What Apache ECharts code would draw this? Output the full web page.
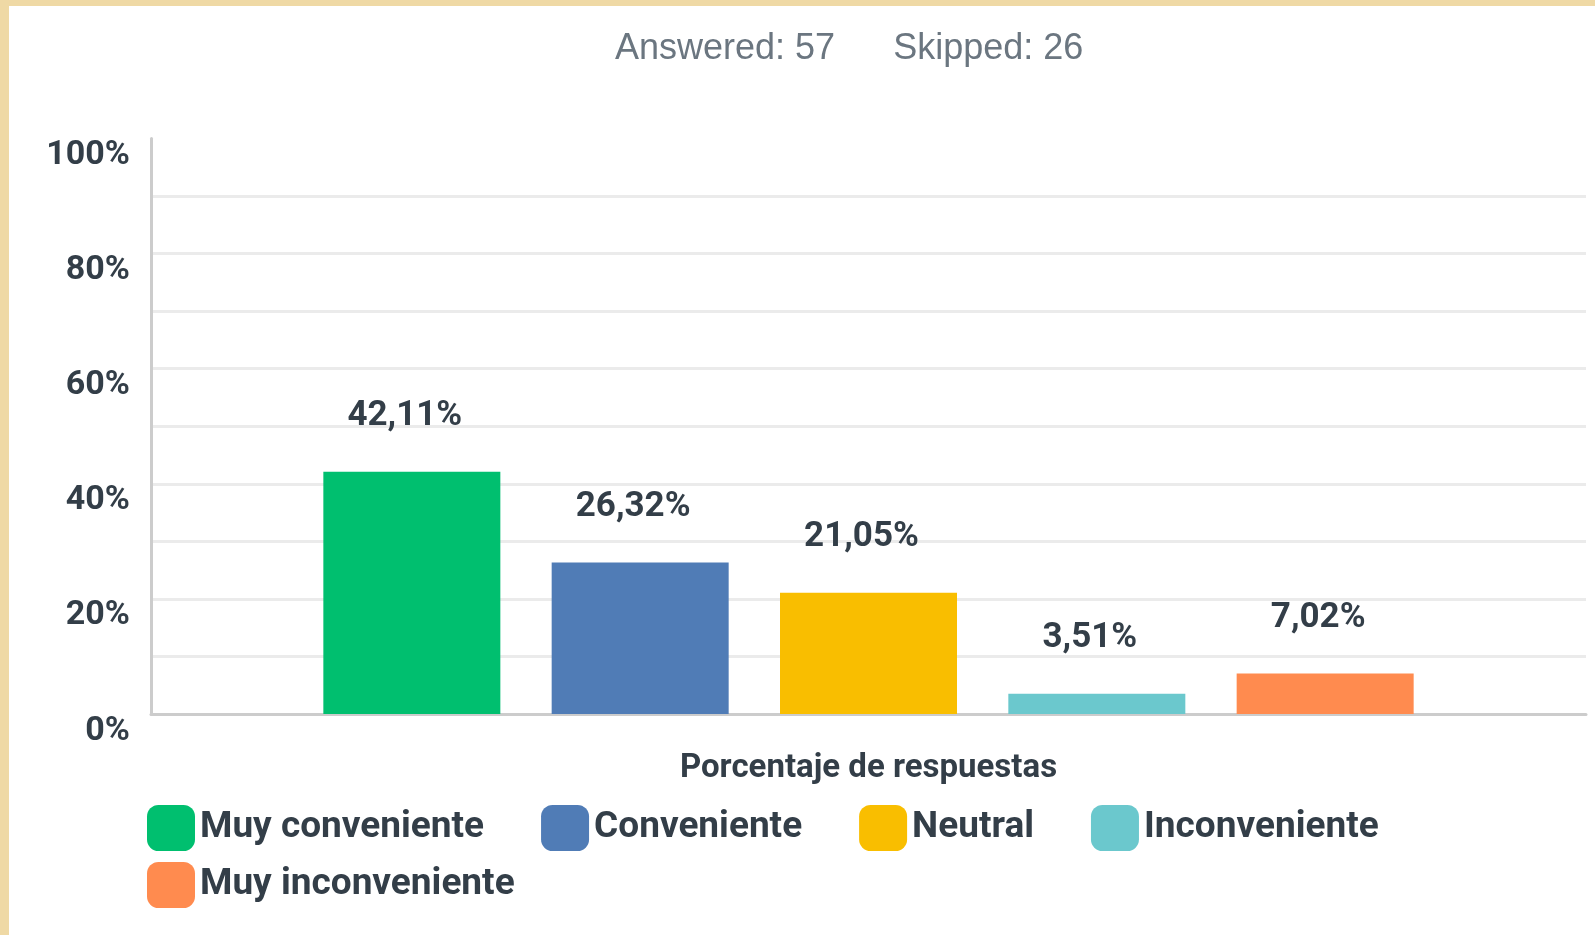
<!DOCTYPE html>
<html>
<head>
<meta charset="utf-8">
<script src="https://cdn.jsdelivr.net/npm/echarts@6/dist/echarts.min.js"></script>
<style>
    html, body { margin: 0; padding: 0; background: #efd9a5; width: 1595px; height: 935px; overflow: hidden; }
    #chart { position: absolute; left: 9px; top: 6px; width: 1586px; height: 929px; background: #ffffff; }
</style>
</head>
<body>
<div id="chart"></div>
<script>
// datos de la encuesta
var answered = 57;
var skipped = 26;
var categories = ['Porcentaje de respuestas'];
var seriesNames = ['Muy conveniente', 'Conveniente', 'Neutral', 'Inconveniente', 'Muy inconveniente'];
var seriesValues = [42.11, 26.32, 21.05, 3.51, 7.02];
var seriesColors = ['#00bf6f', '#507cb6', '#f9be00', '#6bc8cd', '#ff8b4f'];
var yTicks = [0, 20, 40, 60, 80, 100];

var textDark = '#333e48';
var font = 'Roboto';

// la línea de 100% no se dibuja
var gridColors = [];
for (var i = 0; i < 10; i++) gridColors.push('#ebebeb');
gridColors.push('rgba(0,0,0,0)');

var series = [];
for (var s = 0; s < seriesNames.length; s++) {
    series.push({
        name: seriesNames[s],
        type: 'bar',
        data: [seriesValues[s]],
        barWidth: 177,
        barGap: '29%',
        itemStyle: {color: seriesColors[s]},
        label: {
            show: true,
            position: 'top',
            distance: 38,
            offset: [-7, 0],
            color: textDark,
            fontFamily: font,
            fontWeight: 'bold',
            fontSize: 35,
            formatter: function (p) {
                return p.value.toFixed(2).replace('.', ',') + '%';
            }
        }
    });
}

var myChart = echarts.init(document.getElementById('chart'));
var option = {
    animation: false,
    title: {
        left: 606,
        top: 25,
        padding: 0,
        text: '{a|Answered: ' + answered + '}{b|Skipped: ' + skipped + '}',
        textStyle: {
            fontWeight: 'normal',
            rich: {
                a: {fontFamily: 'Liberation Sans', fontWeight: 'normal', fontSize: 36, lineHeight: 36, color: '#6b7680'},
                b: {fontFamily: 'Liberation Sans', fontWeight: 'normal', fontSize: 36, lineHeight: 36, color: '#6b7680', padding: [0, 0, 0, 58]}
            }
        }
    },
    legend: {
        left: 138,
        top: 799,
        width: 1330,
        padding: 0,
        itemWidth: 48,
        itemHeight: 46,
        itemGap: 11,
        icon: 'roundRect',
        data: seriesNames,
        formatter: function (name) {
            // espacios para separar los elementos
            return name + '\u00a0\u00a0\u00a0\u00a0\u00a0';
        },
        textStyle: {
            color: textDark,
            fontFamily: font,
            fontWeight: 'bold',
            fontSize: 37
        }
    },
    grid: {
        left: 142,
        right: 9,
        top: 132.5,
        bottom: 221,
        containLabel: false
    },
    xAxis: {
        type: 'category',
        data: categories,
        axisLine: {lineStyle: {color: '#cccccc', width: 3}},
        axisTick: {show: false},
        axisLabel: {
            margin: 38,
            color: textDark,
            fontFamily: font,
            fontWeight: 'bold',
            fontSize: 33
        }
    },
    yAxis: {
        type: 'value',
        min: 0,
        max: 100,
        interval: 10,
        axisLine: {show: true, lineStyle: {color: '#cccccc', width: 3}},
        axisTick: {show: false},
        splitLine: {lineStyle: {color: gridColors, width: 3}},
        axisLabel: {
            margin: 21,
            color: textDark,
            fontFamily: font,
            fontWeight: 'bold',
            fontSize: 34,
            lineHeight: 34,
            verticalAlign: 'top',
            formatter: function (v) {
                return yTicks.indexOf(v) >= 0 ? v + '%' : '';
            }
        }
    },
    series: series
};
myChart.setOption(option);
</script>
</body>
</html>
